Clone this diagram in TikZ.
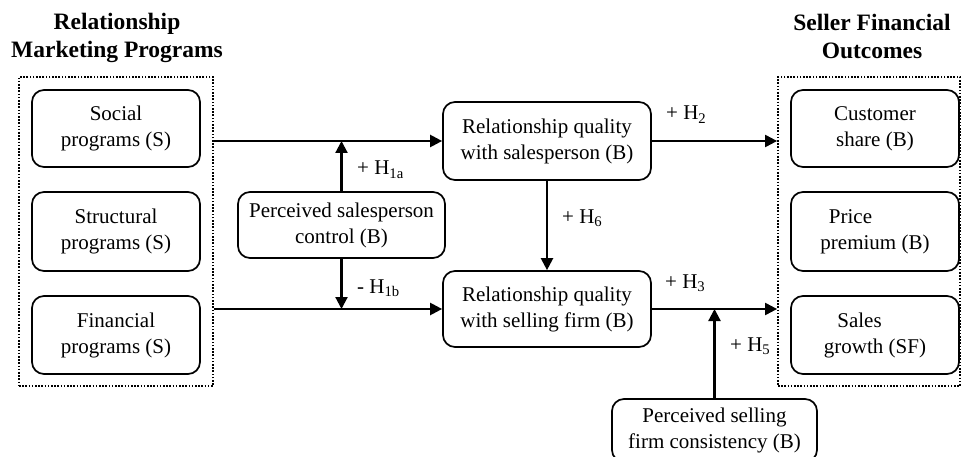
\documentclass[tikz,border=0pt]{standalone}
\usepackage{fontspec}
\setmainfont{Liberation Serif}
\usetikzlibrary{arrows.meta}
\begin{document}
\begin{tikzpicture}[x=1pt,y=-1pt,
  body/.style={font=\fontsize{21}{26}\selectfont},
  titletext/.style={font=\bfseries\fontsize{23.5}{28}\selectfont, align=center, inner sep=0pt},
  rbox/.style={draw, line width=1.7pt, rounded corners=12pt, align=center, inner sep=0pt, body},
  dotbox/.style={draw, line width=1.8pt, dash pattern=on 1.6pt off 1.6pt, inner sep=0pt},
  lab/.style={body, inner sep=0pt, anchor=base west},
  arr/.style={line width=2.2pt, -{Triangle[length=12pt,width=12pt]}}
]
\useasboundingbox (0,0) rectangle (961,457);
\clip (0,0) rectangle (961,457);

% titles
\node[titletext] (tl) at (117,38) {Relationship\\Marketing Programs};
\node[titletext] (tr) at (872,36) {Seller Financial\\Outcomes};

% groups
\node[dotbox, minimum width=194pt, minimum height=309pt] (lg) at (116,231.5) {};
\node[dotbox, minimum width=182pt, minimum height=309pt] (rg) at (869,231.5) {};

% left boxes
\node[rbox, minimum width=168pt, minimum height=77pt] (social) at (116,128.5) {Social\\programs (S)};
\node[rbox, minimum width=168pt, minimum height=79pt] (struct) at (116,231.5) {Structural\\programs (S)};
\node[rbox, minimum width=168pt, minimum height=78pt] (fin) at (116,335) {Financial\\programs (S)};

% right boxes
\node[rbox, minimum width=168pt, minimum height=77pt] (cs) at (875,128.5) {Customer\\share (B)};
\node[rbox, minimum width=168pt, minimum height=79pt] (pp) at (875,231.5) {\hspace*{-49pt}Price\\premium (B)};
\node[rbox, minimum width=168pt, minimum height=78pt] (sg) at (875,335) {\hspace*{-31pt}Sales\\growth (SF)};

% middle boxes
\node[rbox, minimum width=207pt, minimum height=66pt] (psc) at (341.5,225) {Perceived salesperson\\control (B)};
\node[rbox, minimum width=208pt, minimum height=78pt] (rqs) at (547,141) {Relationship quality\\with salesperson (B)};
\node[rbox, minimum width=208pt, minimum height=76pt] (rqf) at (547,309) {Relationship quality\\with selling firm (B)};
\node[rbox, minimum width=205pt, minimum height=63pt] (pfc) at (714.5,430.5) {Perceived selling\\firm consistency (B)};

% junction coordinates
\coordinate (ls1) at (lg.east |- rqs.west);
\coordinate (ls2) at (lg.east |- rqf.west);
\coordinate (j1) at (psc.north |- rqs.west);
\coordinate (j2) at (psc.south |- rqf.west);
\coordinate (e2) at (rg.west |- rqs.east);
\coordinate (e3) at (rg.west |- rqf.east);
\coordinate (j5) at (pfc.north |- rqf.east);

% connectors
\draw[arr] (ls1) -- (rqs.west);
\draw[arr] (ls2) -- (rqf.west);
\draw[arr] (psc.north) -- (j1);
\draw[arr] (psc.south) -- (j2);
\draw[arr] (rqs.south) -- (rqf.north);
\draw[arr] (rqs.east) -- (e2);
\draw[arr] (rqf.east) -- (e3);
\draw[arr] (pfc.north) -- (j5);

% labels
\node[lab] (h1a) at (357,175) {+ H\textsubscript{1a}};
\node[lab] (h1b) at (357,293) {- H\textsubscript{1b}};
\node[lab] (h2) at (666,120) {+ H\textsubscript{2}};
\node[lab] (h6) at (562,223) {+ H\textsubscript{6}};
\node[lab] (h3) at (665,288) {+ H\textsubscript{3}};
\node[lab] (h5) at (730,351) {+ H\textsubscript{5}};
\end{tikzpicture}
\end{document}
